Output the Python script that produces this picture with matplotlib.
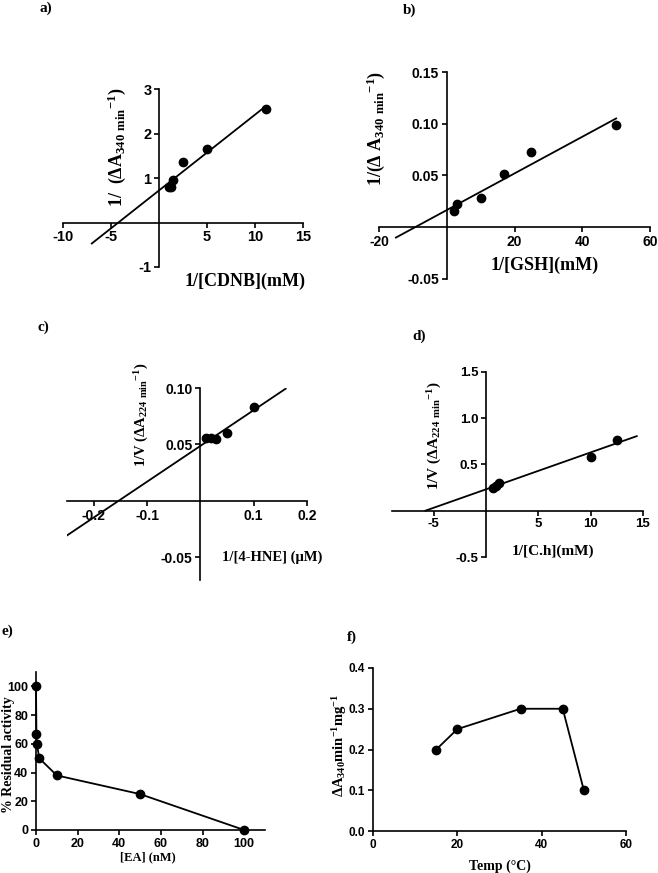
import matplotlib.pyplot as plt
import numpy as np

plt.rcParams['font.family'] = 'Liberation Sans'
plt.rcParams['font.weight'] = 'bold'
plt.rcParams['mathtext.default'] = 'regular'

W, H = 658, 873

# a) Lineweaver-Burk, CDNB
a_x = [1.0, 1.2, 1.5, 2.5, 5.0, 11.1]
a_y = [0.80, 0.80, 0.95, 1.37, 1.65, 2.55]
a_fit = [-7.0, 11.1]

# b) GSH
b_x = [2, 3, 10, 17, 25, 50]
b_y = [0.016, 0.022, 0.028, 0.051, 0.073, 0.099]
b_fit = [-15, 50]

# c) 4-HNE
c_x = [0.01, 0.02, 0.03, 0.05, 0.10]
c_y = [0.056, 0.056, 0.055, 0.060, 0.083]
c_fit = [-0.25, 0.16]

# d) cumene hydroperoxide
d_x = [0.7, 0.9, 1.2, 10.0, 12.5]
d_y = [0.25, 0.27, 0.30, 0.58, 0.77]
d_fit = [-5.8, 14.4]

# e) inhibition by EA
e_x = [0, 0.2, 0.5, 1.5, 10, 50, 100]
e_y = [100, 67, 60, 50, 38, 25, 0]

# f) temperature
f_x = [15, 20, 35, 45, 50]
f_y = [0.20, 0.25, 0.30, 0.30, 0.10]

fig = plt.figure(figsize=(W / 100, H / 100), dpi=100)


def serif(size):
    return dict(family='Liberation Serif', weight='bold', size=size)


def box(l, t, r, b):
    return fig.add_axes([l / W, 1 - b / H, (r - l) / W, (b - t) / H])


def style(ax, centered, fs):
    for s in ['top', 'right']:
        ax.spines[s].set_visible(False)
    for s in ['left', 'bottom']:
        ax.spines[s].set_linewidth(1.2)
    if centered:
        ax.spines['left'].set_position(('data', 0))
        ax.spines['bottom'].set_position(('data', 0))
    ax.tick_params(direction='out', length=3.5, width=1.2, labelsize=fs, pad=2)
    ax.patch.set_alpha(0)


def lb_panel(ax, x, y, fit, xlim, ylim, xt, yt, yfmt, fs):
    k, c = np.polyfit(x, y, 1)
    xs = np.array(fit)
    ax.plot(xs, k * xs + c, color='black', lw=1.3)
    ax.plot(x, y, 'o', color='black', ms=6)
    ax.set_xlim(xlim)
    ax.set_ylim(ylim)
    ax.set_xticks(xt)
    ax.set_xticklabels([('%g' % v) for v in xt])
    ax.set_yticks(yt)
    ax.set_yticklabels([yfmt % v for v in yt])
    style(ax, True, fs)


ax = box(63, 89, 303, 267)
lb_panel(ax, a_x, a_y, a_fit, (-10, 15), (-1, 3), [-10, -5, 5, 10, 15], [-1, 1, 2, 3], '%g', 10.5)

ax = box(379, 72, 650, 279)
lb_panel(ax, b_x, b_y, b_fit, (-20, 60), (-0.05, 0.15), [-20, 20, 40, 60],
         [-0.05, 0.05, 0.10, 0.15], '%.2f', 10)

ax = box(67, 388, 307, 580)
lb_panel(ax, c_x, c_y, c_fit, (-0.25, 0.2), (-0.07, 0.10), [-0.2, -0.1, 0.1, 0.2],
         [-0.05, 0.05, 0.10], '%.2f', 10)

ax = box(392, 372, 643, 557)
lb_panel(ax, d_x, d_y, d_fit, (-9, 15), (-0.5, 1.5), [-5, 5, 10, 15],
         [-0.5, 0.5, 1.0, 1.5], '%.1f', 9.5)

ax = box(36, 672, 265, 830)
ax.plot(e_x, e_y, '-o', color='black', lw=1.3, ms=6, clip_on=False)
ax.set_xlim(0, 110)
ax.set_ylim(0, 110)
ax.set_xticks(range(0, 101, 20))
ax.set_yticks(range(0, 101, 20))
style(ax, False, 9)

ax = box(373, 668, 626, 831)
ax.plot(f_x, f_y, '-o', color='black', lw=1.3, ms=6)
ax.set_xlim(0, 60)
ax.set_ylim(0, 0.4)
ax.set_xticks([0, 20, 40, 60])
ax.set_yticks([0.0, 0.1, 0.2, 0.3, 0.4])
ax.set_yticklabels(['0.0', '0.1', '0.2', '0.3', '0.4'])
style(ax, False, 8.5)


def ftext(x, y, s, size, rot=0, ha='center'):
    fig.text(x / W, 1 - y / H, s, ha=ha, va='center', rotation=rot, **serif(size))


# axis titles
ftext(245, 281, '1/[CDNB](mM)', 13)
ftext(545, 265, '1/[GSH](mM)', 13)
ftext(272, 557, '1/[4-HNE] (μM)', 10.5)
ftext(553, 551, '1/[C.h](mM)', 11)
ftext(148, 857, '[EA] (nM)', 9)
ftext(500, 866, 'Temp (°C)', 10)

ftext(117, 147, '1/  (ΔA$_{340\\ min}$$^{-1}$)', 13, 90)
ftext(376, 128, '1/(Δ A$_{340\\ min}$$^{-1}$)', 13, 90)
ftext(142, 415, '1/V (ΔA$_{224\\ min}$$^{-1}$)', 10.5, 90)
ftext(435, 436, '1/V (ΔA$_{224\\ min}$$^{-1}$)', 11, 90)
ftext(9, 755, '% Residual activity', 10, 90)
ftext(340, 745, 'ΔA$_{340}$min$^{-1}$mg$^{-1}$', 10.5, 90)

# panel letters
for lab, px, py in [('a)', 39, 8), ('b)', 403, 10), ('c)', 37, 327),
                    ('d)', 412, 336), ('e)', 2, 631), ('f)', 347, 637)]:
    ftext(px, py, lab, 11, ha='left')

fig.savefig('out.png', dpi=100)
